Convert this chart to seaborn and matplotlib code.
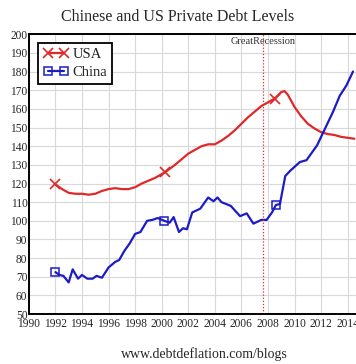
import matplotlib
matplotlib.use("Agg")
import matplotlib.pyplot as plt
import seaborn as sns
import pandas as pd

# ---------------------- data ----------------------
usa_years = [1992.0, 1992.5, 1993.0, 1993.5, 1994.0, 1994.5, 1995.0, 1995.5, 1996.0, 1996.5,
             1997.0, 1997.5, 1998.0, 1998.5, 1999.0, 1999.5, 2000.25, 2001.0, 2001.5, 2002.0,
             2002.5, 2003.0, 2003.5, 2004.0, 2004.5, 2005.0, 2005.5, 2006.0, 2006.5, 2007.0,
             2007.5, 2008.0, 2008.5, 2009.0, 2009.25, 2009.5, 2010.0, 2010.5, 2011.0, 2011.5,
             2012.0, 2012.5, 2013.0, 2013.5, 2014.0, 2014.5]
usa_debt = [119.5, 117, 115, 114.5, 114.5, 114, 114.5, 116, 117, 117.5,
            117, 117, 118, 120, 121.5, 123, 126, 130, 133, 136,
            138, 140, 141, 141, 143, 145.5, 148.5, 152, 155.5, 158.5,
            161.5, 163.5, 165.5, 169, 169.5, 167.5, 161, 156, 152, 149.5,
            147.5, 146.5, 146, 145, 144.5, 144]

china_years = [1992.0, 1992.3, 1992.6, 1993.0, 1993.3, 1993.7, 1994.0, 1994.4, 1994.8, 1995.1,
               1995.5, 1996.0, 1996.5, 1996.8, 1997.2, 1997.6, 1998.0, 1998.4, 1998.9, 1999.3,
               1999.7, 2000.2, 2000.6, 2000.9, 2001.3, 2001.6, 2001.9, 2002.3, 2002.9, 2003.5,
               2003.9, 2004.2, 2004.5, 2005.2, 2005.9, 2006.4, 2006.9, 2007.5, 2007.9, 2008.3,
               2008.6, 2008.9, 2009.3, 2009.7, 2010.4, 2010.9, 2011.7, 2012.3, 2012.9, 2013.4,
               2013.9, 2014.4]
china_debt = [72.5, 71, 70.5, 67, 74, 69, 71, 69, 69, 70.5,
              69.5, 75, 78, 79, 84, 88, 93, 94, 100, 100.5,
              101.5, 100, 99, 102, 94, 96, 95.5, 104.5, 106.5, 112.5,
              110.5, 112.5, 110, 108, 102.5, 104, 98.5, 100.5, 100.5, 104.5,
              108.5, 109, 124, 127, 131.5, 132.5, 140.5, 149.5, 158.5, 167,
              172.5, 180]

usa_marks = [0, 16, 32]
china_marks = [0, 21, 40]
recession_year = 2007.65
x_ticks = list(range(1990, 2015, 2))
y_ticks = list(range(50, 201, 10))

usa = pd.DataFrame({"year": usa_years, "debt": usa_debt})
china = pd.DataFrame({"year": china_years, "debt": china_debt})

# ---------------------- style ----------------------
sns.set_style("whitegrid", {"grid.color": "#d9d9d9", "axes.edgecolor": "black"})
plt.rcParams["font.family"] = ["Liberation Serif", "DejaVu Serif"]

fig = plt.figure(figsize=(3.56, 3.64), dpi=100)
ax = fig.add_axes([0.081, 0.137, 0.933, 0.769])

red = "#e02828"
blue = "#1c1cc4"

sns.lineplot(data=usa, x="year", y="debt", ax=ax, color=red, lw=1.6,
             marker="x", markevery=usa_marks, markersize=6.5, mew=1.2,
             mec=red, label="USA")
sns.lineplot(data=china, x="year", y="debt", ax=ax, color=blue, lw=1.6,
             marker="s", markevery=china_marks, markersize=5.5, mew=1.1,
             mec=blue, mfc="none", label="China")

ax.axvline(recession_year, color=red, ls=(0, (1, 1.5)), lw=0.9)
ax.text(recession_year, 198.5, "GreatRecession", ha="center", va="top",
        fontsize=7.5, color="#333333")

ax.set_xlim(1990, 2015)
ax.set_ylim(50, 200)
ax.set_xticks(x_ticks)
ax.set_yticks(y_ticks)
ax.tick_params(axis="x", length=0, pad=3, labelsize=8.3)
ax.tick_params(axis="y", length=0, pad=1, labelsize=8.3)
ax.set_xlabel("")
ax.set_ylabel("")
ax.grid(True, lw=0.8)
for s in ax.spines.values():
    s.set_linewidth(1.4)
    s.set_color("black")

leg = ax.legend(loc="upper left", bbox_to_anchor=(0.02, 0.98), numpoints=2,
                handlelength=1.7, handletextpad=0.3, borderpad=0.35,
                borderaxespad=0.2, labelspacing=0.3, fontsize=10.5,
                fancybox=False, framealpha=1)
leg.get_frame().set_edgecolor("black")
leg.get_frame().set_linewidth(1.3)

fig.text(0.5, 0.953, "Chinese and US Private Debt Levels", ha="center", va="center", fontsize=11.5)
fig.text(0.575, 0.027, "www.debtdeflation.com/blogs", ha="center", va="center", fontsize=10)

fig.savefig("out.png", dpi=100)
